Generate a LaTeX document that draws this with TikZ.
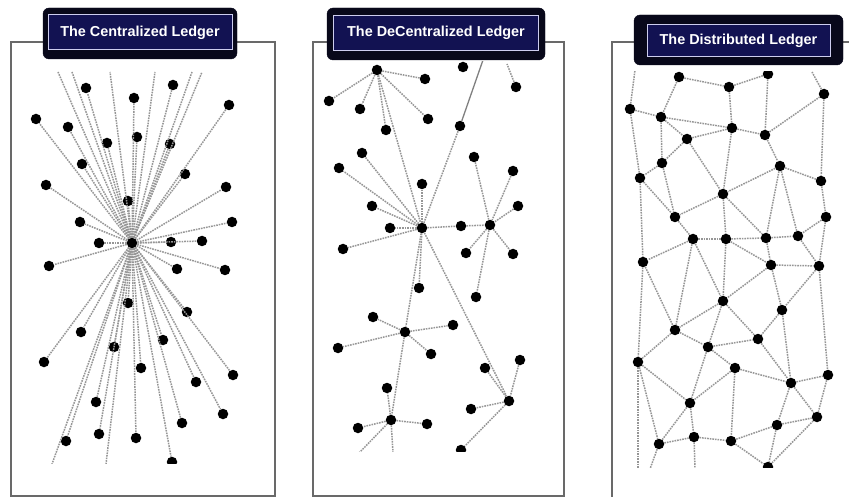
\documentclass[tikz,border=0pt]{standalone}
\usepackage{fontspec}
\setmainfont{Liberation Sans}
\definecolor{titledark}{RGB}{8,8,26}
\definecolor{titlenavy}{RGB}{18,18,82}
\definecolor{titleedge}{RGB}{205,205,238}
\definecolor{linkgray}{RGB}{150,150,150}
\definecolor{framegray}{RGB}{105,105,105}
\tikzset{
  dot/.style={circle, fill=black, inner sep=0pt, minimum size=10.5pt},
  link/.style={draw=linkgray, line width=1.5pt, dash pattern=on 1.6pt off 1pt},
  solidlink/.style={draw=linkgray!85!black, line width=1.3pt},
  frameline/.style={draw=framegray, line width=1.2pt},
  titleouter/.style={rounded corners=6pt, fill=titledark, draw=titledark, inner sep=0pt},
  titleinner/.style={fill=titlenavy, draw=titleedge, line width=1pt, text=white,
    font=\fontsize{14.4}{16}\selectfont\bfseries, inner sep=0pt}
}
\begin{document}
\begin{tikzpicture}[x=1pt,y=-1pt]
\useasboundingbox (0,0) rectangle (849,497);
\fill[white] (0,0) rectangle (849,497);

% ---------- frames ----------
\draw[frameline] (11,42) rectangle (275,496);
\draw[frameline] (313,42) rectangle (564,496);
\draw[frameline] (612,497) -- (612,42) -- (849,42);

% ---------- panel 1: centralized ----------
\begin{scope}
\clip (12,72) rectangle (274,463);
\node[dot] (c0) at (132,243) {};
\foreach \n/\x/\y in {p1/86/88, p2/134/98, p3/173/85, p4/229/105, p5/36/119,
  p6/68/127, p7/107/143, p8/137/137, p9/170/144, p10/82/164, p11/185/174,
  p12/46/185, p13/128/201, p14/226/187, p15/80/222, p16/232/222, p17/99/243,
  p18/171/242, p19/202/241, p20/49/266, p21/177/269, p22/225/270, p23/128/303,
  p24/187/312, p25/81/332, p26/114/347, p27/163/340, p28/44/362, p29/141/368,
  p30/233/375, p31/196/382, p32/96/402, p33/223/414, p34/182/423, p35/66/441,
  p36/99/434, p37/136/438, p38/172/462}
  \node[dot] (\n) at (\x,\y) {};
\foreach \n/\x/\y in {u1/58/72, u2/72/72, u3/110/72, u4/155/72, u5/192/72,
  u6/202/72, u7/52/464, u8/106/464}
  \coordinate (\n) at (\x,\y);
\foreach \n in {p1,p2,p3,p4,p5,p6,p7,p8,p9,p10,p11,p12,p13,p14,p15,p16,p17,p18,
  p19,p20,p21,p22,p23,p24,p25,p26,p27,p28,p29,p30,p31,p32,p33,p34,p35,p36,p37,p38,
  u1,u2,u3,u4,u5,u6,u7,u8}
  \draw[link] (c0) -- (\n);
\end{scope}

% ---------- panel 2: decentralized ----------
\begin{scope}
\clip (314,62) rectangle (563,451);
\foreach \n/\x/\y in {q1/377/70, q2/425/79, q3/463/67, q4/516/87, q5/329/101,
  q6/360/109, q7/428/119, q8/386/130, q9/460/126, q10/362/153, q11/474/157,
  q12/339/168, q13/513/171, q14/422/184, q15/518/206, q16/372/206, q17/390/228,
  hA/422/228, q18/461/226, hB/490/225, q19/343/249, q20/466/253, q21/513/254,
  q22/419/288, q23/476/297, q24/373/317, hC/405/332, q25/453/325, q26/338/348,
  q27/431/354, q28/485/368, q29/520/360, q30/387/388, hD/509/401, hE/391/420,
  q31/471/409, q32/358/428, q33/427/424, q34/461/450}
  \node[dot] (\n) at (\x,\y) {};
\coordinate (v1) at (483,60);
\coordinate (v2) at (507,64);
\coordinate (v3) at (359,453);
\coordinate (v4) at (393,453);
\foreach \a/\b in {q1/q5, q1/q6, q1/q2, q1/q7, q1/q8, q1/hA,
  hA/q10, hA/q12, hA/q16, hA/q17, hA/q14, hA/q9, hA/q18, q18/hB, hA/q19,
  hA/q22, hA/hC, hC/hE, hA/hD,
  q11/hB, q13/hB, q15/hB, hB/q20, hB/q21, hB/q23,
  hC/q24, hC/q25, hC/q26, hC/q27,
  q28/hD, q29/hD, hD/q31, hD/q34,
  hE/q30, hE/q32, hE/q33, hE/v3, hE/v4, q4/v2}
  \draw[link] (\a) -- (\b);
\draw[solidlink] (q9) -- (v1);
\end{scope}

% ---------- panel 3: distributed ----------
\begin{scope}
\clip (613,72) rectangle (849,467);
\foreach \n/\x/\y in {a1/679/77, a2/729/87, a3/768/74, a4/824/94,
  b1/630/109, b2/661/117, b3/732/128, b4/765/135, b5/687/139,
  c1/662/163, c2/780/166, c3/640/178, c4/821/181,
  d1/723/194, d2/826/217, d3/675/217,
  e1/693/239, e2/726/239, e3/766/238, e4/798/236,
  f1/643/262, f2/771/265, f3/819/266,
  g1/723/301, g2/782/310,
  h1/675/330, h2/758/339, h3/708/347,
  i1/638/362, i2/735/368, i3/791/383, i4/828/375,
  j1/690/403, j2/817/417, j3/777/425,
  k1/659/444, k2/694/437, k3/731/441, k4/768/467}
  \node[dot] (\n) at (\x,\y) {};
\coordinate (w1) at (635,70);
\coordinate (w2) at (812,72);
\coordinate (w3) at (638,469);
\coordinate (w4) at (650,469);
\coordinate (w5) at (695,469);
\foreach \a/\b in {a1/a2, a2/a3, a1/b2, b1/b2, b2/b3, b2/b5, b5/b3, a2/b3,
  a3/b4, b3/b4, b4/a4, a4/c4, b1/c3, b2/c1, b5/c1, c1/c3, b3/d1, b4/c2,
  c2/c4, c2/d1, c3/d3, c1/d3, b5/d1, d1/d3, d1/e2, c2/e3, c2/e4, c4/d2,
  d2/e4, d2/f3, d3/e1, e1/e2, e2/e3, e3/e4, d1/e3, c3/f1, e1/f1, f1/h1, f1/i1,
  e1/h1, e1/g1, e2/g1, e2/f2, e3/f2, e4/f3, f2/f3, f2/g1, f2/g2, f3/g2,
  f3/i4, g1/h1, g1/h3, g1/h2, g2/h2, g2/i3, h1/h3, h1/i1, h3/h2, h3/i2,
  h3/j1, h2/i3, i2/i3, i3/i4, i1/j1, i2/j1, i2/k3, i3/j2, i3/j3, i4/j2,
  j3/j2, j1/k1, j1/k2, k1/k2, k2/k3, k3/j3, k3/k4, j3/k4, j2/k4, i1/k1,
  b1/w1, a4/w2, i1/w3, k1/w4, k2/w5}
  \draw[link] (\a) -- (\b);
\end{scope}

% ---------- titles ----------
\node[titleouter, minimum width=194pt, minimum height=51pt] (t1o) at (140,33.5) {};
\node[titleinner, minimum width=184pt, minimum height=35pt] (t1) at (140,32.5) {The Centralized Ledger};
\node[titleouter, minimum width=218pt, minimum height=52pt] (t2o) at (436,34) {};
\node[titleinner, minimum width=205pt, minimum height=35pt] (t2) at (436,33) {The DeCentralized Ledger};
\node[titleouter, minimum width=209pt, minimum height=50pt] (t3o) at (738.5,40) {};
\node[titleinner, minimum width=183pt, minimum height=32pt] (t3) at (738.5,41) {The Distributed Ledger};
\end{tikzpicture}
\end{document}
